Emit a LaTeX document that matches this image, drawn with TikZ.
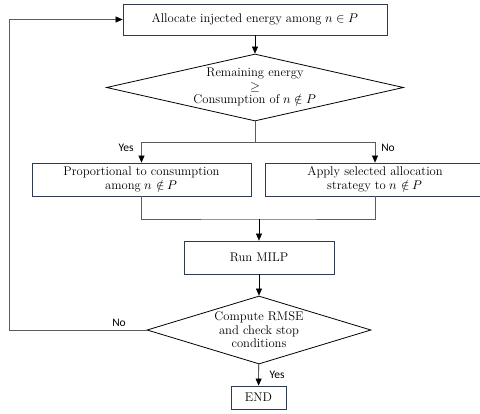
\documentclass[tikz,border=0pt]{standalone}
\usepackage{amsmath}
\usepackage{fontspec}
\usepackage{unicode-math}
\setmathfont{Latin Modern Math}
\newfontfamily\labelfont{Carlito}
\usetikzlibrary{arrows.meta, shapes.geometric, calc}

\definecolor{boxedge}{HTML}{2E3A4F}
\definecolor{linegray}{HTML}{5C5C5C}

\begin{document}
\begin{tikzpicture}[x=1pt, y=-1pt,
  stepbox/.style={rectangle, draw=boxedge, thick, align=center,
                  font=\fontsize{12.6}{13.6}\selectfont, inner sep=1pt},
  decision/.style={diamond, draw=black, thick, align=center, inner sep=0pt,
                   font=\fontsize{12.6}{13.6}\selectfont},
  flow/.style={linegray, semithick},
  arrow/.style={flow, -{Triangle[length=7pt, width=6pt, color=black]}},
  answer/.style={font=\labelfont\fontsize{11.5}{13}\selectfont, inner sep=1pt}
]
  \useasboundingbox (0,0) rectangle (480,413);

  % Process steps and decisions
  \node[stepbox, minimum width=264, minimum height=31] (alloc) at (255,19.5)
    {Allocate injected energy among $n \in P$};
  \node[decision, aspect=4.43, minimum width=297, minimum height=67] (check) at (255,87.5)
    {Remaining energy\\ $\geq$\\ Consumption of $n \notin P$};
  \node[stepbox, minimum width=219, minimum height=33] (prop) at (141.5,179.5)
    {Proportional to consumption\\ among $n \notin P$};
  \node[stepbox, minimum width=220, minimum height=33] (strat) at (375,179.5)
    {Apply selected allocation\\ strategy to $n \notin P$};
  \node[stepbox, minimum width=150, minimum height=33] (milp) at (259,257.5)
    {Run MILP};
  \node[decision, aspect=3.3, minimum width=224, minimum height=68] (stop) at (259,330)
    {Compute RMSE\\ and check stop\\ conditions};
  \node[stepbox, minimum width=55, minimum height=23] (finish) at (258.5,397.5)
    {END};

  % Branch and merge points
  \coordinate (split) at (255,142);
  \coordinate (merge) at (259,219);
  \coordinate (loop) at (9,330);

  % Connectors
  \draw[arrow, black] (alloc) -- (check);
  \draw[flow] (check.south) -- (split);
  \draw[arrow] (split) -| (prop.north);
  \draw[arrow] (split) -| (strat.north);
  \draw[flow] (prop.south) |- (merge) -| (strat.south);
  \draw[arrow, black] (merge) -- (milp.north);
  \draw[arrow, black] (milp) -- (stop);
  \draw[arrow] (stop.west) -- (loop) |- (alloc.west);
  \draw[arrow, black] (stop) -- (finish);

  % Branch labels
  \node[answer] (yes1) at (126,148) {Yes};
  \node[answer] (no1) at (388,148) {No};
  \node[answer] (no2) at (119,323) {No};
  \node[answer] (yes2) at (277,375) {Yes};
\end{tikzpicture}
\end{document}
